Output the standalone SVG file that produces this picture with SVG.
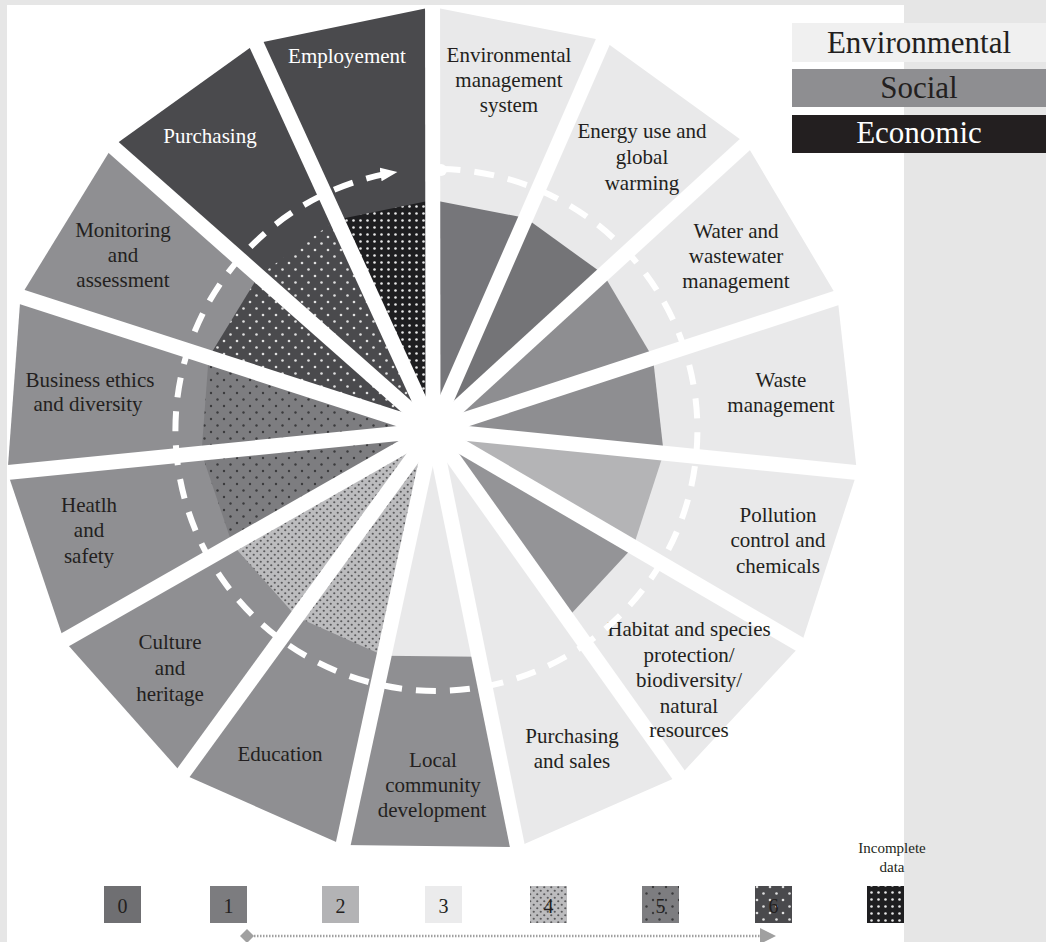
<svg xmlns="http://www.w3.org/2000/svg" width="1046" height="942" viewBox="0 0 1046 942">
<style>
.env{fill:#e9e9ea}
.soc{fill:#8f8f92}
.eco{fill:#4a4a4d}
.lbl{font-family:"Liberation Serif","Times New Roman",serif;font-size:21px;fill:#231f20;text-anchor:middle}
.lw{fill:#ffffff}
.leg{font-family:"Liberation Serif","Times New Roman",serif;font-size:31px;text-anchor:middle}
.num{font-family:"Liberation Serif","Times New Roman",serif;font-size:20px;fill:#231f20;text-anchor:middle}
.strip{fill:#e6e6e6}
</style>
<defs>
<pattern id="p4" patternUnits="userSpaceOnUse" width="7" height="7">
<rect width="7" height="7" fill="#bcbcbe"/>
<circle cx="1.75" cy="1.75" r="1.1" fill="#5a5a5c"/>
<circle cx="5.25" cy="5.25" r="1.1" fill="#5a5a5c"/>
</pattern>
<pattern id="p5" patternUnits="userSpaceOnUse" width="13" height="13">
<rect width="13" height="13" fill="#7d7d80"/>
<circle cx="3" cy="3" r="1.2" fill="#3a3a3c"/>
<circle cx="9.5" cy="9.5" r="1.2" fill="#3a3a3c"/>
</pattern>
<pattern id="p6" patternUnits="userSpaceOnUse" width="13" height="13">
<rect width="13" height="13" fill="#4a4a4d"/>
<circle cx="3" cy="3" r="1.3" fill="#e0e0e0"/>
<circle cx="9.5" cy="9.5" r="1.3" fill="#e0e0e0"/>
</pattern>
<pattern id="pinc" patternUnits="userSpaceOnUse" width="7" height="7">
<rect width="7" height="7" fill="#1e1e20"/>
<circle cx="3.5" cy="3.5" r="1.3" fill="#e8e8e8"/>
</pattern>
<mask id="gaps" maskUnits="userSpaceOnUse" x="0" y="0" width="1046" height="942">
<rect x="0" y="0" width="1046" height="942" fill="#fff"/>
<g stroke="#000" stroke-width="15">
<line x1="433" y1="430" x2="432.5" y2="-18.4"/>
<line x1="433" y1="430" x2="613.7" y2="17.1"/>
<line x1="433" y1="430" x2="764.8" y2="126.3"/>
<line x1="433" y1="430" x2="861.8" y2="289.6"/>
<line x1="433" y1="430" x2="882.4" y2="475.1"/>
<line x1="433" y1="430" x2="823.1" y2="657.9"/>
<line x1="433" y1="430" x2="694.3" y2="796.8"/>
<line x1="433" y1="430" x2="522.6" y2="872"/>
<line x1="433" y1="430" x2="337.6" y2="869.9"/>
<line x1="433" y1="430" x2="167.5" y2="794.6"/>
<line x1="433" y1="430" x2="41.9" y2="653.1"/>
<line x1="433" y1="430" x2="-18" y2="475.1"/>
<line x1="433" y1="430" x2="-4.3" y2="288.5"/>
<line x1="433" y1="430" x2="93.3" y2="129.5"/>
<line x1="433" y1="430" x2="245.4" y2="20.3"/>
</g>
</mask>
<marker id="ah" markerUnits="userSpaceOnUse" markerWidth="20" markerHeight="16" refX="17" refY="8" orient="auto">
<path d="M0,1 L17,8 L0,15 z" fill="#ffffff"/>
</marker>
</defs>
<rect x="0" y="0" width="1046" height="942" fill="#ffffff"/>

<g id="node-env-mgmt">
<g mask="url(#gaps)"><polygon class="env" points="433,430 432.5,7 603.5,40.5"/><polygon fill="#76767a" points="433,430 432.7,199.9 525.8,218.1"/></g>
<text class="lbl"><tspan x="509" y="62">Environmental</tspan><tspan x="509" y="87">management</tspan><tspan x="509" y="112">system</tspan></text>
</g>
<g id="node-energy">
<g mask="url(#gaps)"><polygon class="env" points="433,430 603.5,40.5 746,143.5"/><polygon fill="#747477" points="433,430 525.8,218.1 603.3,274.1"/></g>
<text class="lbl"><tspan x="642" y="138">Energy use and</tspan><tspan x="642" y="164">global</tspan><tspan x="642" y="190">warming</tspan></text>
</g>
<g id="node-water">
<g mask="url(#gaps)"><polygon class="env" points="433,430 746,143.5 837.5,297.5"/><polygon fill="#8e8e91" points="433,430 603.3,274.1 653,357.9"/></g>
<text class="lbl"><tspan x="736" y="238">Water and</tspan><tspan x="736" y="263">wastewater</tspan><tspan x="736" y="288">management</tspan></text>
</g>
<g id="node-waste">
<g mask="url(#gaps)"><polygon class="env" points="433,430 837.5,297.5 857,472.5"/><polygon fill="#8e8e91" points="433,430 653,357.9 663.7,453.1"/></g>
<text class="lbl"><tspan x="781" y="387">Waste</tspan><tspan x="781" y="412">management</tspan></text>
</g>
<g id="node-pollution">
<g mask="url(#gaps)"><polygon class="env" points="433,430 857,472.5 801,645"/><polygon fill="#b4b4b6" points="433,430 663.7,453.1 633.2,547"/></g>
<text class="lbl"><tspan x="778" y="522">Pollution</tspan><tspan x="778" y="547">control and</tspan><tspan x="778" y="573">chemicals</tspan></text>
</g>
<g id="node-habitat">
<g mask="url(#gaps)"><polygon class="env" points="433,430 801,645 679.5,776"/><polygon fill="#949497" points="433,430 633.2,547 567.1,618.2"/></g>
<text class="lbl"><tspan x="689" y="636">Habitat and species</tspan><tspan x="689" y="662">protection/</tspan><tspan x="689" y="687">biodiversity/</tspan><tspan x="689" y="713">natural</tspan><tspan x="689" y="737">resources</tspan></text>
</g>
<g id="node-purchasing-sales">
<g mask="url(#gaps)"><polygon class="env" points="433,430 679.5,776 517.5,847"/></g>
<text class="lbl"><tspan x="572" y="743">Purchasing</tspan><tspan x="572" y="768">and sales</tspan></text>
</g>
<g id="node-local-community">
<g mask="url(#gaps)"><polygon class="soc" points="433,430 517.5,847 343,845"/><polygon class="env" points="433,430 479,656.8 384,655.8"/></g>
<text class="lbl"><tspan x="433" y="767">Local</tspan><tspan x="433" y="792">community</tspan><tspan x="432" y="817">development</tspan></text>
</g>
<g id="node-education">
<g mask="url(#gaps)"><polygon class="soc" points="433,430 343,845 182.5,774"/><polygon fill="url(#p4)" points="433,430 384,655.8 296.7,617.1"/></g>
<text class="lbl" x="280" y="761">Education</text>
</g>
<g id="node-culture">
<g mask="url(#gaps)"><polygon class="soc" points="433,430 182.5,774 64,640.5"/><polygon fill="url(#p4)" points="433,430 296.7,617.1 232.3,544.5"/></g>
<text class="lbl"><tspan x="170" y="649">Culture</tspan><tspan x="170" y="675">and</tspan><tspan x="170" y="701">heritage</tspan></text>
</g>
<g id="node-health">
<g mask="url(#gaps)"><polygon class="soc" points="433,430 64,640.5 7.5,472.5"/><polygon fill="url(#p5)" points="433,430 232.3,544.5 201.5,453.1"/></g>
<text class="lbl"><tspan x="89" y="512">Heatlh</tspan><tspan x="89" y="537">and</tspan><tspan x="89" y="563">safety</tspan></text>
</g>
<g id="node-business-ethics">
<g mask="url(#gaps)"><polygon class="soc" points="433,430 7.5,472.5 20.5,296.5"/><polygon fill="url(#p5)" points="433,430 201.5,453.1 208.6,357.4"/></g>
<text class="lbl"><tspan x="90" y="387">Business ethics</tspan><tspan x="88" y="411">and diversity</tspan></text>
</g>
<g id="node-monitoring">
<g mask="url(#gaps)"><polygon class="soc" points="433,430 20.5,296.5 112.5,146.5"/><polygon fill="url(#p6)" points="433,430 208.6,357.4 258.6,275.8"/></g>
<text class="lbl"><tspan x="123" y="237">Monitoring</tspan><tspan x="123" y="262">and</tspan><tspan x="123" y="287">assessment</tspan></text>
</g>
<g id="node-purchasing">
<g mask="url(#gaps)"><polygon class="eco" points="433,430 112.5,146.5 256,43.5"/><polygon fill="url(#p6)" points="433,430 258.6,275.8 336.7,219.7"/></g>
<text class="lbl lw" x="210" y="143">Purchasing</text>
</g>
<g id="node-employment">
<g mask="url(#gaps)"><polygon class="eco" points="433,430 256,43.5 432.5,7"/><polygon fill="url(#pinc)" points="433,430 336.7,219.7 432.7,199.9"/></g>
<text class="lbl lw" x="347" y="63">Employement</text>
</g>

<g id="connectors">
<path d="M440.6,169 A261,261 0 1 1 397.4,171.9" fill="none" stroke="#ffffff" stroke-width="6" stroke-dasharray="20 14" marker-end="url(#ah)"/>
<circle cx="441" cy="170" r="6" fill="#ffffff"/>
</g>

<g id="frame">
<rect class="strip" x="0" y="0" width="1046" height="5"/>
<rect class="strip" x="0" y="0" width="7" height="942"/>
<rect class="strip" x="904" y="0" width="142" height="942"/>
</g>

<g id="legend-category">
<rect x="792" y="23" width="254" height="39" fill="#f0f0f0"/>
<text class="leg" x="919" y="53" fill="#231f20">Environmental</text>
<rect x="792" y="69" width="254" height="38" fill="#8e8e91"/>
<text class="leg" x="919" y="98" fill="#231f20">Social</text>
<rect x="792" y="115" width="254" height="38" fill="#231f20"/>
<text class="leg" x="919" y="143" fill="#ffffff">Economic</text>
</g>

<g id="legend-scale">
<rect x="104" y="886" width="37" height="37" fill="#6f6f72"/>
<text class="num" x="122.5" y="913">0</text>
<rect x="210" y="886" width="37" height="37" fill="#7c7c7f"/>
<text class="num" x="228.5" y="913">1</text>
<rect x="322" y="886" width="37" height="37" fill="#b3b3b5"/>
<text class="num" x="340.5" y="913">2</text>
<rect x="425" y="886" width="37" height="37" fill="#ebebec"/>
<text class="num" x="443.5" y="913">3</text>
<rect x="530" y="886" width="37" height="37" fill="url(#p4)"/>
<text class="num" x="548.5" y="913">4</text>
<rect x="642" y="886" width="37" height="37" fill="url(#p5)"/>
<text class="num" x="660.5" y="913">5</text>
<rect x="755" y="886" width="37" height="37" fill="url(#p6)"/>
<text class="num" x="773.5" y="913">6</text>
<rect x="867" y="886" width="37" height="37" fill="url(#pinc)"/>
<text font-family="Liberation Serif, Times New Roman, serif" font-size="15" fill="#231f20" text-anchor="middle"><tspan x="892" y="853">Incomplete</tspan><tspan x="892" y="872">data</tspan></text>
<line x1="254" y1="936" x2="762" y2="936" stroke="#a0a0a0" stroke-width="2.5" stroke-dasharray="1.5 1.5"/>
<polygon points="247,929 254,936 247,943 240,936" fill="#a0a0a0"/>
<polygon points="760,928 776,936 760,944" fill="#a0a0a0"/>
</g>
</svg>
